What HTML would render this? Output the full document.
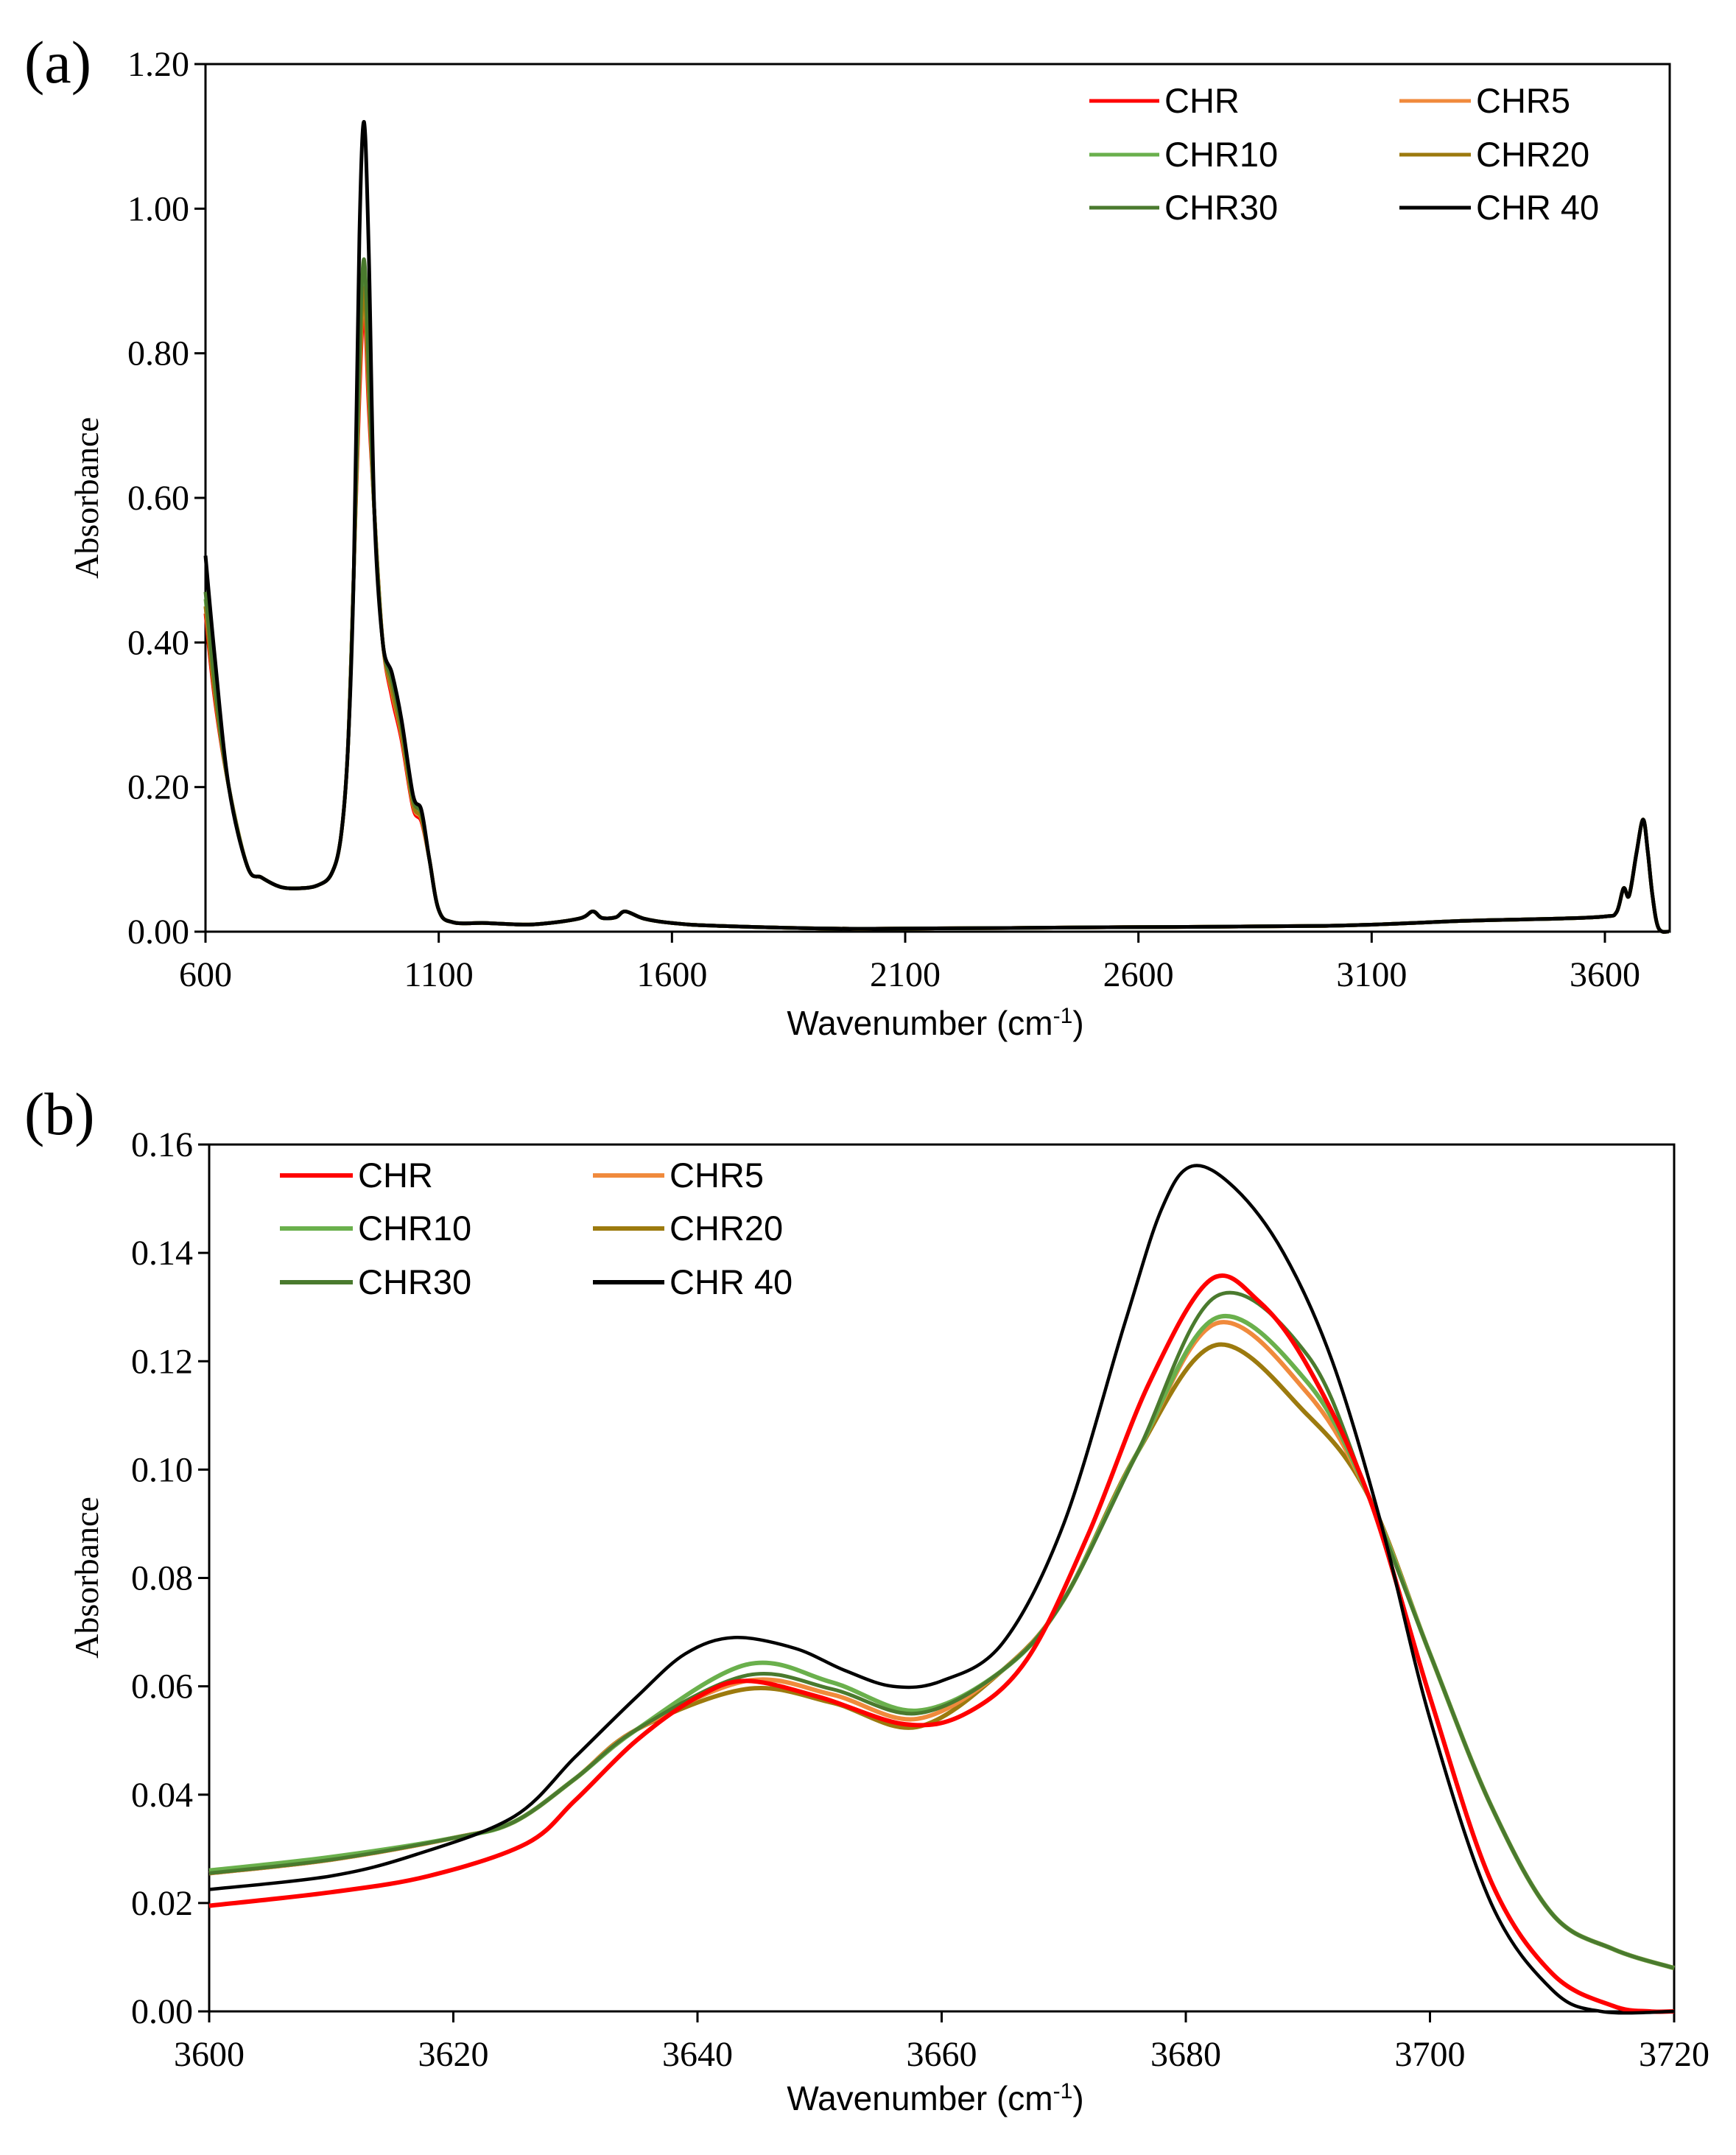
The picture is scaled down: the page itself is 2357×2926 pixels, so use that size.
<!DOCTYPE html>
<html><head><meta charset="utf-8"><style>
html,body{margin:0;padding:0;background:#fff}
svg{display:block}
text{font-family:"Liberation Serif",serif;fill:#000}
.s{font-family:"Liberation Sans",sans-serif}
</style></head><body>
<svg id="c" width="2357" height="2926" viewBox="0 0 2357 2926" xmlns="http://www.w3.org/2000/svg">
<rect width="2357" height="2926" fill="#fff"/>
<g id="A"></g>
</svg>
<script>
const NS="http://www.w3.org/2000/svg",G=document.getElementById('A');
function el(t,a,txt){const e=document.createElementNS(NS,t);for(const k in a)e.setAttribute(k,a[k]);if(txt!==undefined)e.textContent=txt;G.appendChild(e);return e;}
function path(pts,fx,fy,col,w){let p=pts.map(q=>[fx(q[0]),fy(q[1])]);let d="M"+p[0][0].toFixed(1)+","+p[0][1].toFixed(1);
for(let i=0;i<p.length-1;i++){const p0=p[Math.max(0,i-1)],p1=p[i],p2=p[i+1],p3=p[Math.min(p.length-1,i+2)];
const c1=[p1[0]+(p2[0]-p0[0])/6,p1[1]+(p2[1]-p0[1])/6],c2=[p2[0]-(p3[0]-p1[0])/6,p2[1]-(p3[1]-p1[1])/6];
d+=" C"+c1.map(v=>v.toFixed(1))+" "+c2.map(v=>v.toFixed(1))+" "+p2[0].toFixed(1)+","+p2[1].toFixed(1);}
el('path',{d:d,fill:'none',stroke:col,'stroke-width':w,'stroke-linejoin':'round'});}
const COL={CHR:'#ff0000',CHR5:'#f08a3c',CHR10:'#6ab04c',CHR20:'#9c7a0e',CHR30:'#4a7a2e',CHR40:'#000'};
// ---------- Panel A ----------
const aL=279,aR=2267,aT=87,aB=1265;
const ax=w=>aL+(w-600)*1900/3000, ay=a=>aB-a/1.2*(aB-aT);
function specA(h0,pk,sh){return [[600,h0],[620,0.35*h0/0.48],[650,0.2],[690,0.09],[720,0.075],[760,0.062],[800,0.06],[840,0.064],[870,0.08],[890,0.13],[905,0.25],[918,0.5],[930,pk*0.86],[940,pk],[950,pk*0.84],[962,0.58],[980,0.40],[1000,0.34*sh],[1020,0.28*sh],[1045,0.18*sh],[1063,0.16*sh],[1080,0.1],[1100,0.03],[1130,0.013],[1200,0.012],[1300,0.01],[1400,0.018],[1430,0.028],[1450,0.019],[1480,0.02],[1500,0.028],[1540,0.018],[1600,0.012],[1700,0.008],[2000,0.004],[2500,0.006],[3000,0.008],[3300,0.015],[3500,0.018],[3600,0.021],[3625,0.027],[3640,0.06],[3652,0.05],[3668,0.11],[3682,0.155],[3692,0.11],[3702,0.05],[3715,0.005],[3738,0]];}
el('rect',{x:aL,y:aT,width:aR-aL,height:aB-aT,fill:'none',stroke:'#000','stroke-width':3});
for(let i=0;i<=6;i++){const v=i*0.2,y=ay(v);el('line',{x1:aL-15,x2:aL,y1:y,y2:y,stroke:'#000','stroke-width':3});
el('text',{x:aL-22,y:y+16,'font-size':48,'text-anchor':'end'},v.toFixed(2));}
for(let i=0;i<=6;i++){const w=600+i*500,x=ax(w);el('line',{x1:x,x2:x,y1:aB,y2:aB+15,stroke:'#000','stroke-width':3});
el('text',{x:x,y:aB+74,'font-size':48,'text-anchor':'middle'},w);}
path(specA(0.44,0.86,0.95),ax,ay,COL.CHR,5);
path(specA(0.45,0.88,0.97),ax,ay,COL.CHR5,5);
path(specA(0.46,0.9,1.0),ax,ay,COL.CHR10,5);
path(specA(0.45,0.89,0.98),ax,ay,COL.CHR20,5);
path(specA(0.47,0.93,1.02),ax,ay,COL.CHR30,5);
path(specA(0.52,1.12,1.05),ax,ay,COL.CHR40,5);
el('text',{x:33,y:112,'font-size':82},'(a)');
el('text',{x:1270,y:1405,'font-size':46,'text-anchor':'middle',class:'s'},'Wavenumber (cm');
// ---------- Panel B ----------
const bL=284,bR=2273,bT=1554,bB=2731;
const bx=w=>bL+(w-3600)/120*(bR-bL), by=a=>bB-a/0.16*(bB-bT);
el('rect',{x:bL,y:bT,width:bR-bL,height:bB-bT,fill:'none',stroke:'#000','stroke-width':3});
for(let i=0;i<=8;i++){const v=i*0.02,y=by(v);el('line',{x1:bL-15,x2:bL,y1:y,y2:y,stroke:'#000','stroke-width':3});
el('text',{x:bL-22,y:y+16,'font-size':48,'text-anchor':'end'},v.toFixed(2));}
for(let i=0;i<=6;i++){const w=3600+i*20,x=bx(w);el('line',{x1:x,x2:x,y1:bB,y2:bB+15,stroke:'#000','stroke-width':3});
el('text',{x:x,y:bB+74,'font-size':48,'text-anchor':'middle'},w);}
function other(s,p1,v,p2,q){return [[3600,s],[3610,s+0.0025],[3620,0.032],[3625,0.035],[3630,0.043],[3635,0.052],[3644,p1],[3651,(p1+v)/2+0.001],[3658,v],[3665,0.063],[3670,0.076],[3676,0.103],[3682.5,p2],[3690,q],[3695,0.095],[3700,0.066],[3705,0.038],[3710,0.018],[3715,0.0115],[3720,0.008]];}
const chr=[[3600,0.0195],[3610,0.022],[3618,0.025],[3626,0.031],[3630,0.039],[3635,0.050],[3640,0.058],[3644,0.061],[3650,0.058],[3657,0.053],[3662,0.055],[3667,0.065],[3672,0.088],[3677,0.116],[3682,0.135],[3686,0.131],[3690,0.119],[3695,0.095],[3700,0.058],[3705,0.024],[3710,0.007],[3715,0.001],[3718,0],[3720,0]];
const c40=[[3600,0.0225],[3610,0.025],[3617,0.029],[3625,0.036],[3630,0.047],[3635,0.058],[3639,0.066],[3643,0.069],[3648,0.067],[3652,0.063],[3656,0.060],[3660,0.061],[3665,0.068],[3670,0.090],[3675,0.127],[3678,0.148],[3680.5,0.156],[3684,0.152],[3688,0.140],[3692,0.120],[3696,0.090],[3700,0.054],[3705,0.020],[3710,0.004],[3714,0],[3720,0]];
path(other(0.0255,0.0595,0.0525,0.123,0.110),bx,by,COL.CHR20,6);
path(other(0.0255,0.061,0.054,0.127,0.114),bx,by,COL.CHR5,6);
path(other(0.026,0.064,0.0555,0.128,0.116),bx,by,COL.CHR10,6);
path(other(0.0255,0.062,0.055,0.132,0.121),bx,by,COL.CHR30,5);
path(chr,bx,by,COL.CHR,6);
path(c40,bx,by,COL.CHR40,4.5);
el('text',{x:33,y:1540,'font-size':82},'(b)');
el('text',{x:1270,y:2865,'font-size':46,'text-anchor':'middle',class:'s'},'Wavenumber (cm');
document.querySelectorAll('text.s').forEach(t=>{if(t.textContent.startsWith('Wavenumber')){const a=document.createElementNS(NS,'tspan');a.setAttribute('dy',-16);a.setAttribute('font-size',30);a.textContent='-1';const b=document.createElementNS(NS,'tspan');b.setAttribute('dy',16);b.textContent=')';t.appendChild(a);t.appendChild(b);}});
el('text',{x:0,y:0,'font-size':46,'text-anchor':'middle',transform:'translate(133,676) rotate(-90)'},'Absorbance');
el('text',{x:0,y:0,'font-size':46,'text-anchor':'middle',transform:'translate(133,2142) rotate(-90)'},'Absorbance');
function legend(x1,x2,tx,rows,items,w){items.forEach((it,i)=>{const col=i%2,row=Math.floor(i/2),y=rows[row];
el('line',{x1:x1[col],x2:x2[col],y1:y,y2:y,stroke:COL[it[0]],'stroke-width':w});
el('text',{x:tx[col],y:y+16,'font-size':47,class:'s'},it[1]);});}
const items=[['CHR','CHR'],['CHR5','CHR5'],['CHR10','CHR10'],['CHR20','CHR20'],['CHR30','CHR30'],['CHR40','CHR 40']];
legend([1479,1900],[1574,1997],[1581,2004],[137,210,282],items,5);
legend([380,805],[479,902],[486,909],[1596,1668,1741],items,6);
</script>
</body></html>
